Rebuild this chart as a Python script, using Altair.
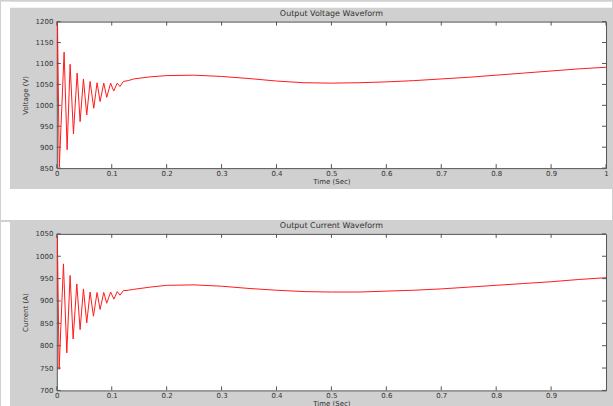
import altair as alt
import pandas as pd

# ---- data ----
t_v = [0.0, 0.0012, 0.0045, 0.0133, 0.0188, 0.0242, 0.0303, 0.037, 0.0424, 0.0485,
       0.0545, 0.0606, 0.0673, 0.0733, 0.0788, 0.0855, 0.0909, 0.098, 0.1036, 0.110,
       0.115, 0.121, 0.13, 0.14, 0.17, 0.2, 0.25, 0.3, 0.35, 0.4, 0.45, 0.5, 0.55,
       0.6, 0.65, 0.7, 0.75, 0.8, 0.85, 0.9, 0.95, 1.0]
voltage = [1010, 1200, 852, 1127, 894, 1098, 932, 1077, 961, 1063,
           977, 1057, 993, 1054, 1009, 1053, 1019, 1053, 1034, 1053,
           1045, 1057, 1059, 1063, 1068, 1071, 1072, 1069, 1064, 1058, 1054, 1053, 1054,
           1056, 1059, 1063, 1067, 1072, 1077, 1082, 1087, 1091]

t_i = [0.0, 0.001, 0.0042, 0.0121, 0.0182, 0.0242, 0.0297, 0.0364, 0.0424, 0.0485,
       0.0545, 0.0606, 0.0667, 0.0733, 0.0788, 0.0855, 0.0909, 0.098, 0.104, 0.110,
       0.115, 0.121, 0.13, 0.14, 0.17, 0.2, 0.25, 0.3, 0.35, 0.4, 0.45, 0.5, 0.55,
       0.6, 0.65, 0.7, 0.75, 0.8, 0.85, 0.9, 0.95, 1.0]
current = [900, 1045, 747, 983, 784, 957, 815, 938, 836, 927,
           851, 920, 866, 919, 881, 919, 895, 920, 904, 921,
           913, 923, 924, 926, 931, 935, 936, 933, 928, 924, 921, 920, 920,
           922, 924, 927, 931, 935, 939, 943, 948, 952]

titles = ["Output Voltage Waveform", "Output Current Waveform"]
x_ticks_top = [0, 0.1, 0.2, 0.3, 0.4, 0.5, 0.6, 0.7, 0.8, 0.9, 1.0]
x_ticks_bot = [0, 0.1, 0.2, 0.3, 0.4, 0.5, 0.6, 0.7, 0.8, 0.9]
y_ticks_v = [850, 900, 950, 1000, 1050, 1100, 1150, 1200]
y_ticks_i = [700, 750, 800, 850, 900, 950, 1000, 1050]

W = 551
H1 = 147
H2 = 157
LINE = "#ff1a1a"
FRAME = "#555555"
TEXT = "#333333"
FONT = "DejaVu Sans"


def panel(t, y, ylab, xticks, yticks, ydom, title, h, decor):
    df = pd.DataFrame({"t": t, "y": y})
    xs = alt.Scale(domain=[0, 1], nice=False, zero=False)
    ys = alt.Scale(domain=ydom, nice=False, zero=False)
    xax = alt.Axis(title="Time (Sec)", values=xticks, format="~g",
                   ticks=False, domain=False, grid=False,
                   labelOverlap=False, labelFlush=False,
                   labelPadding=1, titlePadding=1)
    yax = alt.Axis(title=ylab, values=yticks, format="d",
                   ticks=False, domain=False, grid=False,
                   labelOverlap=False, labelFlush=False,
                   labelPadding=4, titlePadding=7)
    line = alt.Chart(df).mark_line(color=LINE, strokeWidth=1, clip=True).encode(
        x=alt.X("t:Q", scale=xs, axis=xax),
        y=alt.Y("y:Q", scale=ys, axis=yax),
    )
    xt = alt.Chart(pd.DataFrame({"v": xticks}))
    yt = alt.Chart(pd.DataFrame({"v": yticks}))
    tb = xt.mark_rule(color=FRAME, strokeWidth=1).encode(
        x=alt.X("v:Q", scale=xs, axis=xax), y=alt.value(h), y2=alt.value(h - 4))
    tt = xt.mark_rule(color=FRAME, strokeWidth=1).encode(
        x=alt.X("v:Q", scale=xs, axis=xax), y=alt.value(0), y2=alt.value(4))
    tl = yt.mark_rule(color=FRAME, strokeWidth=1).encode(
        y=alt.Y("v:Q", scale=ys, axis=yax), x=alt.value(0), x2=alt.value(4))
    tr = yt.mark_rule(color=FRAME, strokeWidth=1).encode(
        y=alt.Y("v:Q", scale=ys, axis=yax), x=alt.value(W), x2=alt.value(W - 4))
    ttl = alt.Chart(alt.Data(values=[{"s": title}])).mark_text(
        font=FONT, fontSize=8, color=TEXT, baseline="bottom", align="center"
    ).encode(text="s:N", x=alt.value(W / 2), y=alt.value(-4))
    layers = []
    for (x1, x2, y1, y2) in decor:
        layers.append(
            alt.Chart(alt.Data(values=[{}])).mark_rect(color="white", clip=False).encode(
                x=alt.value(x1), x2=alt.value(x2), y=alt.value(y1), y2=alt.value(y2))
        )
    layers += [line, tb, tt, tl, tr, ttl]
    return alt.layer(*layers).properties(width=W, height=h)


top = panel(t_v, voltage, "Voltage (V)", x_ticks_top, y_ticks_v, [850, 1200],
            titles[0], H1,
            decor=[(-56, -47, -20, H1 + 52),
                   (-56, W + 6, -20, -14),
                   (-56, W + 6, H1 + 21, H1 + 52)])
bottom = panel(t_i, current, "Current (A)", x_ticks_bot, y_ticks_i, [700, 1050],
               titles[1], H2,
               decor=[(-56, -47, -12, H2 + 18)])

chart = alt.vconcat(top, bottom, spacing=0).properties(
    padding=0, background="#d0d0d0"
).configure_view(
    fill="white", stroke=FRAME, strokeWidth=1
).configure_axis(
    labelFont=FONT, titleFont=FONT, labelFontSize=7, titleFontSize=7,
    labelColor=TEXT, titleColor=TEXT, titleFontWeight="normal",
)

chart.save("out.html", embed_options={"renderer": "svg", "actions": False})
